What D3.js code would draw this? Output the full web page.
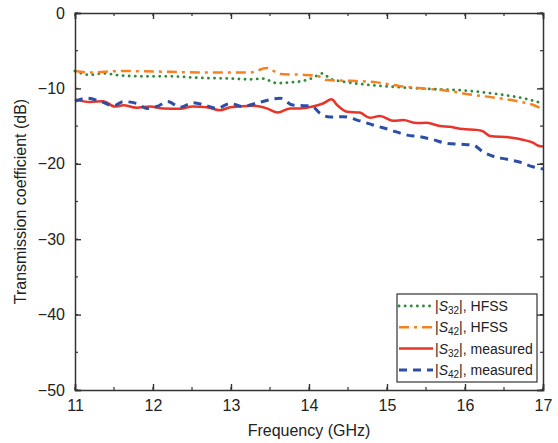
<!DOCTYPE html>
<html>
<head>
<meta charset="utf-8">
<script src="https://cdn.jsdelivr.net/npm/d3@7"></script>
<style>
  body { margin: 0; background: #fff; }
  text { font-family: "Liberation Sans", Arial, sans-serif; fill: #222; }
</style>
</head>
<body>
<svg width="558" height="443"></svg>
<script>
// S32 HFSS
const fS32h = [11.0, 11.19, 11.36, 11.6, 11.9, 12.22, 12.6, 13.0, 13.24, 13.41, 13.59, 13.75, 13.92, 14.05, 14.17, 14.27, 14.44, 14.74, 15.17, 15.59, 16.03, 16.45, 16.79, 17.0];
const dS32h = [-7.7, -8.2, -8.0, -8.3, -8.4, -8.4, -8.6, -8.7, -8.8, -8.7, -9.3, -9.2, -9.0, -8.6, -8.0, -8.7, -9.1, -9.5, -9.85, -10.1, -10.3, -10.8, -11.4, -12.0];
// S42 HFSS
const fS42h = [11.0, 11.19, 11.58, 12.22, 12.64, 13.24, 13.46, 13.63, 13.92, 14.12, 14.23, 14.53, 14.87, 15.17, 15.46, 15.77, 16.06, 16.36, 16.67, 16.9, 17.0];
const dS42h = [-7.7, -7.9, -7.7, -7.8, -7.9, -7.9, -7.3, -8.1, -8.2, -8.4, -8.9, -9.0, -9.2, -9.7, -10.0, -10.3, -10.8, -11.2, -11.7, -12.3, -12.8];
// S32 measured
const fS32m = [11.0, 11.19, 11.36, 11.51, 11.62, 11.79, 11.96, 12.13, 12.35, 12.51, 12.69, 12.86, 12.99, 13.28, 13.46, 13.6, 13.76, 13.88, 14.05, 14.18, 14.29, 14.36, 14.49, 14.65, 14.78, 14.91, 15.08, 15.21, 15.38, 15.51, 15.68, 15.81, 15.97, 16.15, 16.23, 16.32, 16.58, 16.74, 16.87, 16.94, 17.0];
const dS32m = [-11.45, -11.8, -11.7, -12.4, -12.25, -12.55, -12.4, -12.65, -12.7, -12.4, -12.5, -12.9, -12.5, -12.3, -12.65, -13.2, -12.65, -12.65, -12.4, -12.0, -11.45, -12.2, -13.1, -13.2, -13.9, -13.65, -14.3, -14.2, -14.6, -14.55, -15.0, -15.1, -15.4, -15.5, -15.7, -16.3, -16.5, -16.8, -17.2, -17.6, -17.7];
// S42 measured
const fS42m = [11.0, 11.15, 11.32, 11.49, 11.62, 11.79, 11.92, 12.05, 12.19, 12.35, 12.51, 12.69, 12.82, 12.99, 13.15, 13.33, 13.63, 13.79, 13.97, 14.05, 14.14, 14.27, 14.44, 14.65, 14.82, 15.04, 15.26, 15.42, 15.59, 15.77, 15.94, 16.1, 16.23, 16.36, 16.54, 16.71, 16.87, 17.0];
const dS42m = [-11.7, -11.3, -11.7, -12.3, -11.75, -12.0, -12.65, -12.4, -11.75, -12.5, -11.9, -12.3, -12.65, -12.0, -12.4, -11.95, -11.3, -12.2, -12.3, -12.45, -13.3, -13.8, -13.75, -14.3, -14.85, -15.5, -16.2, -16.4, -16.8, -17.3, -17.4, -17.5, -18.4, -19.0, -19.4, -19.8, -20.4, -20.7];

const xTicks = [11, 12, 13, 14, 15, 16, 17];
const yTicks = [0, -10, -20, -30, -40, -50];
const legendLabels = [
  {sub: "32", tail: ", HFSS"},
  {sub: "42", tail: ", HFSS"},
  {sub: "32", tail: ", measured"},
  {sub: "42", tail: ", measured"}
];

const mLeft = 75, mRight = 543, mTop = 13, mBottom = 390;
const svg = d3.select("svg");

const x = d3.scaleLinear().domain([11, 17]).range([mLeft, mRight]);
const y = d3.scaleLinear().domain([-50, 0]).range([mBottom, mTop]);

const series = [
  {f: fS32h, d: dS32h, color: "#2f8a3b", dash: "0.1,6", width: 2.8, cap: "round"},
  {f: fS42h, d: dS42h, color: "#f58220", dash: "10,5,3,5", width: 2.5, cap: "butt"},
  {f: fS32m, d: dS32m, color: "#e8342a", dash: null, width: 2.5, cap: "butt"},
  {f: fS42m, d: dS42m, color: "#2e4ea6", dash: "8,6", width: 3, cap: "butt"}
];

const line = d3.line().x(d => x(d[0])).y(d => y(d[1])).curve(d3.curveMonotoneX);

const plot = svg.append("g");
series.forEach(s => {
  plot.append("path")
    .datum(s.f.map((f, i) => [f, s.d[i]]))
    .attr("fill", "none")
    .attr("stroke", s.color)
    .attr("stroke-width", s.width)
    .attr("stroke-linecap", s.cap)
    .attr("stroke-linejoin", "round")
    .attr("stroke-dasharray", s.dash)
    .attr("d", line);
});

// axes: ticks inward on all four sides
const axisColor = "#333";
const minorX = d3.range(11, 17.01, 0.5);
const minorY = d3.range(-50, 0.01, 5);

const bottomAx = d3.axisBottom(x).tickValues(xTicks).tickSize(-6).tickPadding(10).tickFormat(d3.format("d"));
const gb = svg.append("g").attr("transform", `translate(0,${mBottom})`).call(bottomAx);
const topAx = d3.axisTop(x).tickValues(xTicks).tickSize(-6).tickFormat("");
const gt = svg.append("g").attr("transform", `translate(0,${mTop})`).call(topAx);
const leftAx = d3.axisLeft(y).tickValues(yTicks).tickSize(-6).tickPadding(10).tickFormat(d => d < 0 ? "\u2212" + Math.abs(d) : d);
const gl = svg.append("g").attr("transform", `translate(${mLeft},0)`).call(leftAx);
const rightAx = d3.axisRight(y).tickValues(yTicks).tickSize(-6).tickFormat("");
const gr = svg.append("g").attr("transform", `translate(${mRight},0)`).call(rightAx);

// minor ticks
svg.append("g").selectAll("line").data(minorX).join("line")
  .attr("x1", d => x(d)).attr("x2", d => x(d)).attr("y1", mBottom).attr("y2", mBottom - 3)
  .attr("stroke", axisColor).attr("stroke-width", 1.2);
svg.append("g").selectAll("line").data(minorX).join("line")
  .attr("x1", d => x(d)).attr("x2", d => x(d)).attr("y1", mTop).attr("y2", mTop + 3)
  .attr("stroke", axisColor).attr("stroke-width", 1.2);
svg.append("g").selectAll("line").data(minorY).join("line")
  .attr("x1", mLeft).attr("x2", mLeft + 3).attr("y1", d => y(d)).attr("y2", d => y(d))
  .attr("stroke", axisColor).attr("stroke-width", 1.2);
svg.append("g").selectAll("line").data(minorY).join("line")
  .attr("x1", mRight).attr("x2", mRight - 3).attr("y1", d => y(d)).attr("y2", d => y(d))
  .attr("stroke", axisColor).attr("stroke-width", 1.2);

[gb, gt, gl, gr].forEach(g => {
  g.select(".domain").attr("stroke", axisColor).attr("stroke-width", 1.5);
  g.selectAll(".tick line").attr("stroke", axisColor).attr("stroke-width", 1.4);
  g.selectAll(".tick text").attr("font-size", 16).attr("fill", "#222")
    .style("font-family", "'Liberation Sans', Arial, sans-serif");
});

// axis titles
svg.append("text")
  .attr("x", (mLeft + mRight) / 2).attr("y", 436)
  .attr("text-anchor", "middle").attr("font-size", 16)
  .text("Frequency (GHz)");
svg.append("text")
  .attr("transform", `translate(26,${(mTop + mBottom) / 2}) rotate(-90)`)
  .attr("text-anchor", "middle").attr("font-size", 16)
  .text("Transmission coefficient (dB)");

// legend
const lg = svg.append("g");
const lx = 397, ly = 294, lw = 140, lh = 88, rowH = 21.3;
lg.append("rect").attr("x", lx).attr("y", ly).attr("width", lw).attr("height", lh)
  .attr("fill", "#fff").attr("stroke", "#333").attr("stroke-width", 1.2);
series.forEach((s, i) => {
  const cy = ly + 12 + i * rowH;
  lg.append("line")
    .attr("x1", lx + 2).attr("x2", lx + 36).attr("y1", cy).attr("y2", cy)
    .attr("stroke", s.color).attr("stroke-width", s.width)
    .attr("stroke-linecap", s.cap).attr("stroke-dasharray", s.dash);
  const t = lg.append("text").attr("x", lx + 38).attr("y", cy + 5).attr("font-size", 14);
  t.append("tspan").text("|");
  t.append("tspan").attr("font-style", "italic").text("S");
  t.append("tspan").attr("font-size", 10).attr("dy", 3).text(legendLabels[i].sub);
  t.append("tspan").attr("dy", -3).text("|" + legendLabels[i].tail);
});
</script>
</body>
</html>
